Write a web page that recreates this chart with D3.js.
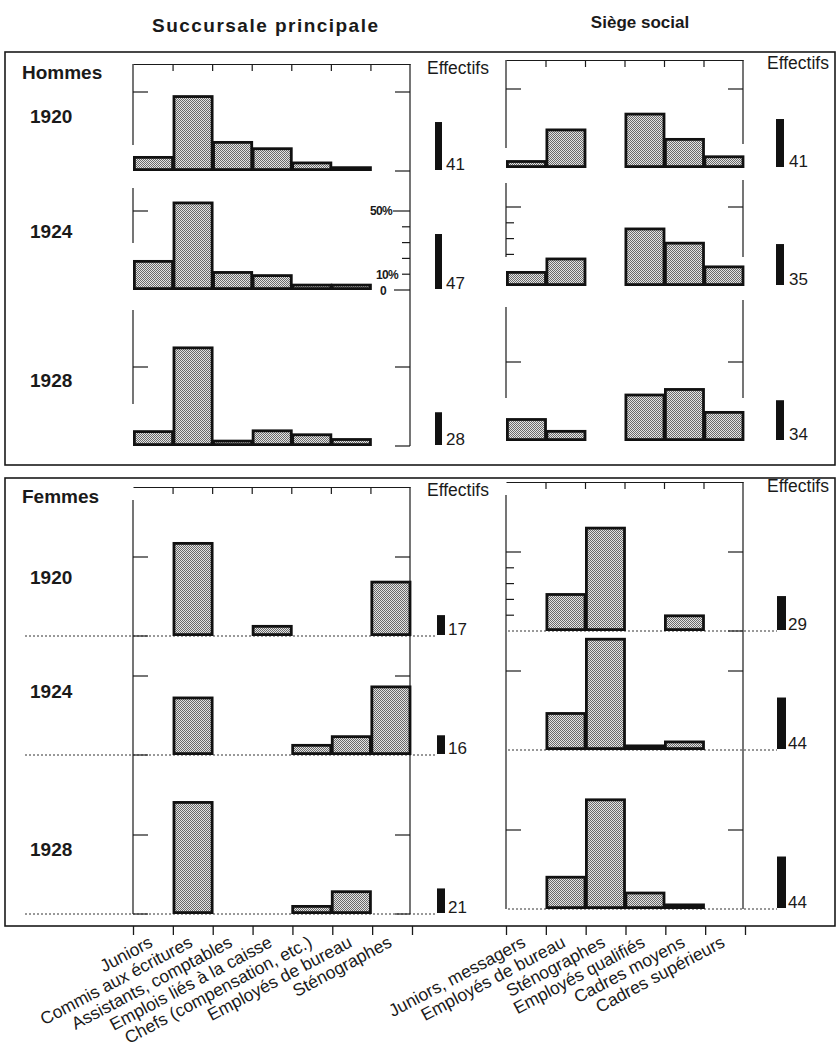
<!DOCTYPE html>
<html>
<head>
<meta charset="utf-8">
<script src="https://cdn.jsdelivr.net/npm/d3@7"></script>
<style>
  body { margin: 0; background: #fff; }
  svg { display: block; }
</style>
</head>
<body>
<div id="chart"></div>
<script>
// ── Data ──
const years = ['1920', '1924', '1928'];

const succCats = ['Juniors', 'Commis aux écritures', 'Assistants, comptables',
  'Emplois liés à la caisse', 'Chefs (compensation, etc.)', 'Employés de bureau', 'Sténographes'];
const siegeCats = ['Juniors, messagers', 'Employés de bureau', 'Sténographes',
  'Employés qualifiés', 'Cadres moyens', 'Cadres supérieurs'];

// % of staff in each category, one row per year
const hommesSucc = [
  [9.5, 48, 19, 15, 6, 3, 0],
  [19, 56, 12, 10, 4, 4, 0],
  [10, 63, 4, 10.5, 8, 5, 0],
];
const hommesSiege = [
  [5, 25, 0, 35, 19, 8],
  [9.5, 18, 0, 37, 28, 13],
  [14.5, 7, 0, 30, 33.5, 19],
];
const femmesSucc = [
  [0, 59.5, 0, 7, 0, 0, 35],
  [0, 37, 0, 0, 7, 12.5, 44],
  [0, 71.5, 0, 0, 5.7, 15, 0],
];
const femmesSiege = [
  [0, 24, 66, 0, 10.5, 0],
  [0, 24, 71, 3.5, 6, 0],
  [0, 21, 70, 11, 3.5, 0],
];

// staff counts (Effectifs)
const hommesSuccEff = [41, 47, 28];
const hommesSiegeEff = [41, 35, 34];
const femmesSuccEff = [17, 16, 21];
const femmesSiegeEff = [29, 44, 44];

// ── Setup ──
const W = 837, H = 1051;
const FONT = '"Liberation Sans", Arial, Helvetica, sans-serif';
const INK = '#1a1a1a';

const svg = d3.select('#chart').append('svg')
  .attr('width', W)
  .attr('height', H)
  .style('font-family', FONT);

// stipple fill used by the histograms
const pat = svg.append('defs').append('pattern')
  .attr('id', 'stipple')
  .attr('width', 2).attr('height', 2)
  .attr('patternUnits', 'userSpaceOnUse');
pat.append('rect').attr('width', 2).attr('height', 2).attr('fill', '#e4e4e4');
pat.append('rect').attr('width', 1).attr('height', 1).attr('fill', '#6a6a6a');
pat.append('rect').attr('x', 1).attr('y', 1).attr('width', 1).attr('height', 1).attr('fill', '#6a6a6a');

const pct = d3.scaleLinear().domain([0, 50]).range([0, 79]);   // % -> px
const eff = d3.scaleLinear().domain([0, 10]).range([0, 11.7]); // staff -> px

const xSucc = d3.scaleBand().domain(succCats).range([133, 410]);
const xSiege = d3.scaleBand().domain(siegeCats).range([506, 743]);

// ── Titles ──
svg.append('text').attr('x', 152).attr('y', 32)
  .attr('font-size', 19).attr('font-weight', 'bold').attr('fill', INK)
  .attr('textLength', 226).attr('lengthAdjust', 'spacing')
  .text('Succursale principale');
svg.append('text').attr('x', 640).attr('y', 28)
  .attr('text-anchor', 'middle')
  .attr('font-size', 17).attr('font-weight', 'bold').attr('fill', INK)
  .text('Siège social');

// outer boxes
[[5, 52, 830, 413], [5, 478, 830, 448]].forEach(([x, y, w, h]) => {
  svg.append('rect').attr('x', x).attr('y', y).attr('width', w).attr('height', h)
    .attr('fill', 'none').attr('stroke', INK).attr('stroke-width', 1.6);
});

// ── Panels ──
const panels = [
  { label: 'Hommes', labelY: 79, yearY: [123, 238, 387],
    x: xSucc, data: hommesSucc, eff: hommesSuccEff,
    base: [171, 290, 446], top: 64,
    left: [[64, 145], [188, 243], [310, 404]], right: [[64, 446]],
    ticks: [
      [['l', 50, 15], ['r', 50, 15], ['r', 0, 15]],
      [['l', 50, 15], ['r', 0, 16], ['r', 10, 8], ['r', 20, 8], ['r', 30, 8], ['r', 40, 8], ['r', 50, 17]],
      [['l', 50, 15], ['r', 50, 15], ['r', 0, 15]],
    ],
    effX: 435, effW: 7, effLab: 446, effTitle: [427, 74], dotted: null },
  { x: xSiege, data: hommesSiege, eff: hommesSiegeEff,
    base: [168, 286, 441], top: 60,
    left: [[60, 148], [183, 257], [307, 398]], right: [[60, 144], [180, 257], [300, 398]],
    ticks: [
      [['l', 50, 15], ['r', 50, 15]],
      [['l', 50, 15], ['l', 40, 8], ['l', 30, 8], ['l', 20, 8], ['r', 50, 15]],
      [['l', 50, 15], ['r', 50, 15]],
    ],
    effX: 776, effW: 8, effLab: 789, effTitle: [767, 69], dotted: null },
  { label: 'Femmes', labelY: 503, yearY: [584, 698, 856],
    x: xSucc, data: femmesSucc, eff: femmesSuccEff,
    base: [636, 755, 914], top: 487,
    left: [[500, 914]], right: [[487, 914]],
    ticks: [
      [['l', 50, 15], ['l', 0, 15], ['r', 50, 15]],
      [['l', 50, 15], ['l', 0, 15], ['r', 50, 15]],
      [['l', 50, 15], ['l', 0, 15], ['r', 50, 15], ['r', 0, 15]],
    ],
    effX: 437, effW: 8, effLab: 448, effTitle: [427, 496], dotted: [25, 437] },
  { x: xSiege, data: femmesSiege, eff: femmesSiegeEff,
    base: [631, 750, 909], top: 482,
    left: [[495, 909]], right: [[482, 909]],
    ticks: [
      [['l', 50, 15], ['l', 40, 8], ['l', 30, 8], ['l', 20, 8], ['l', 10, 8], ['r', 50, 15], ['r', 0, 15]],
      [['l', 50, 15], ['r', 50, 15]],
      [['l', 50, 15], ['r', 50, 15]],
    ],
    effX: 777, effW: 9, effLab: 788, effTitle: [767, 492], dotted: [508, 777] },
];

panels.forEach(p => {
  const g = svg.append('g');
  const [x0, x1] = p.x.range();
  const bw = p.x.bandwidth();
  const edges = d3.scaleLinear().domain([0, p.x.domain().length]).range([x0, x1]);

  if (p.label) {
    svg.append('text').attr('x', 22).attr('y', p.labelY)
      .attr('font-size', 19).attr('font-weight', 'bold').attr('fill', INK)
      .text(p.label);
    years.forEach((yr, i) => {
      svg.append('text').attr('x', 30).attr('y', p.yearY[i])
        .attr('font-size', 19).attr('font-weight', 'bold').attr('fill', INK)
        .text(yr);
    });
  }

  // top frame with inward ticks at category edges
  g.append('g')
    .attr('transform', `translate(0,${p.top})`)
    .call(d3.axisBottom(edges)
      .tickValues(d3.range(1, p.x.domain().length))
      .tickSize(7).tickSizeOuter(0).tickFormat(''))
    .call(a => a.selectAll('line,path').attr('stroke', INK).attr('stroke-width', 1.2));

  // side lines (broken per row in the men's part)
  p.left.forEach(([a, b]) => g.append('line')
    .attr('x1', x0).attr('x2', x0).attr('y1', a).attr('y2', b)
    .attr('stroke', INK).attr('stroke-width', 1.2));
  p.right.forEach(([a, b]) => g.append('line')
    .attr('x1', x1).attr('x2', x1).attr('y1', a).attr('y2', b)
    .attr('stroke', INK).attr('stroke-width', 1.2));

  p.data.forEach((vals, r) => {
    const base = p.base[r];
    const y = d3.scaleLinear().domain([0, 50]).range([base, base - pct(50)]);

    // y ticks
    p.ticks[r].forEach(([side, v, len]) => {
      const xa = side === 'l' ? x0 : x1;
      const xb = side === 'l' ? x0 + len : x1 - len;
      g.append('line').attr('x1', xa).attr('x2', xb)
        .attr('y1', y(v)).attr('y2', y(v))
        .attr('stroke', INK).attr('stroke-width', 1.2);
    });

    // dotted zero line (women)
    if (p.dotted) {
      g.append('line').attr('x1', p.dotted[0]).attr('x2', p.dotted[1])
        .attr('y1', base).attr('y2', base)
        .attr('stroke', '#333').attr('stroke-width', 1)
        .attr('stroke-dasharray', '2,2');
    }

    // histogram bars
    const sw = 2.8;
    const rows = p.x.domain().map((c, i) => ({ cat: c, v: vals[i] })).filter(d => d.v > 0);
    g.append('g').selectAll('rect')
      .data(rows)
      .join('rect')
      .attr('x', d => p.x(d.cat) + sw / 2)
      .attr('width', bw - sw / 2)
      .attr('y', d => base - pct(d.v) + sw / 2)
      .attr('height', d => Math.max(pct(d.v) - sw, 0.6))
      .attr('fill', 'url(#stipple)')
      .attr('stroke', '#111')
      .attr('stroke-width', sw);

    // staff count bar
    const eb = base - 1;
    g.append('rect')
      .attr('x', p.effX).attr('width', p.effW)
      .attr('y', eb - eff(p.eff[r])).attr('height', eff(p.eff[r]))
      .attr('fill', '#111');
    g.append('text')
      .attr('x', p.effLab).attr('y', eb)
      .attr('font-size', 17).attr('fill', INK)
      .text(p.eff[r]);
  });

  svg.append('text').attr('x', p.effTitle[0]).attr('y', p.effTitle[1])
    .attr('font-size', 17.5).attr('fill', INK)
    .text('Effectifs');
});

// scale labels on the men's 1924 row
const y24 = d3.scaleLinear().domain([0, 50]).range([290, 290 - pct(50)]);
[['50%', 50, 392, 4], ['10%', 10, 398, 5], ['0', 0, 386, 5]].forEach(([t, v, x, dy]) => {
  svg.append('text').attr('x', x).attr('y', y24(v) + dy)
    .attr('text-anchor', 'end')
    .attr('font-size', 12).attr('font-weight', 'bold').attr('letter-spacing', -0.7)
    .attr('fill', INK).text(t);
});

// ── Bottom category axes ──
[xSucc, xSiege].forEach(x => {
  const n = x.domain().length;
  const [x0, x1] = x.range();
  const edges = d3.scaleLinear().domain([0, n]).range([x0, x1 + 2]);
  svg.append('g')
    .attr('transform', 'translate(0,926)')
    .call(d3.axisBottom(edges).tickValues(d3.range(0, n + 1)).tickSize(9).tickSizeOuter(0).tickFormat(''))
    .call(a => a.select('.domain').remove())
    .call(a => a.selectAll('line').attr('stroke', INK).attr('stroke-width', 1.3));

  svg.append('g').selectAll('text')
    .data(x.domain())
    .join('text')
    .attr('transform', (d, i) => `translate(${edges(i + 1) - 19},946) rotate(-28)`)
    .attr('text-anchor', 'end')
    .attr('font-size', 17.5)
    .attr('fill', INK)
    .text(d => d);
});
</script>
</body>
</html>
